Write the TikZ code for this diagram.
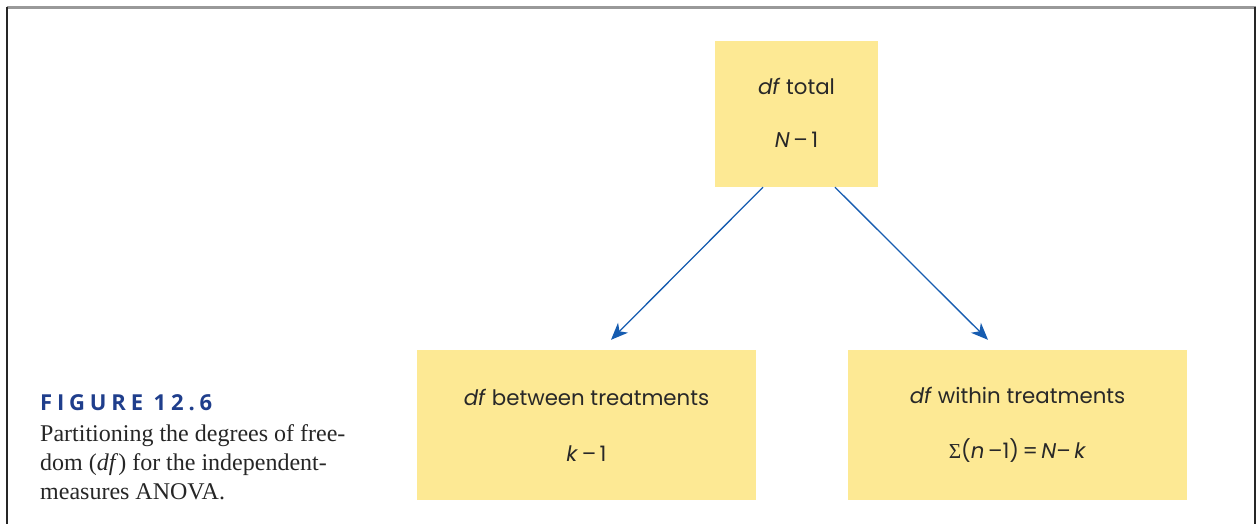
\documentclass[tikz,border=0pt]{standalone}
\usepackage{fontspec}
\setmainfont{Liberation Serif}
\newfontfamily\boxfont{Poppins}
\newfontfamily\figfont[LetterSpace=22]{Open Sans}
\usetikzlibrary{arrows.meta,calc}
\definecolor{boxyellow}{RGB}{253,233,148}
\definecolor{arrowblue}{RGB}{22,92,176}
\definecolor{figblue}{RGB}{31,62,140}
\definecolor{textgray}{RGB}{40,40,40}
\tikzset{
  dfbox/.style={fill=boxyellow, draw=none, align=center, text=textgray,
    font=\boxfont\fontsize{21.3}{55}\selectfont, inner sep=0pt},
  split/.style={draw=arrowblue, line width=1.3pt,
    -{Stealth[length=17pt,width=14pt,inset=5pt]}},
}
\newcommand{\mn}{\,–\,}
\begin{document}
\begin{tikzpicture}[x=1pt,y=-1pt]
\useasboundingbox (0,0) rectangle (1259,524);
% frame
\draw[gray!80, line width=2.2pt] (6.5,7.5) -- (1255.5,7.5);
\draw[black!85, line width=1.4pt] (7,7) -- (7,524);
\draw[black!85, line width=1.4pt] (1255,7) -- (1255,524);
% boxes
\node[dfbox, minimum width=163pt, minimum height=146pt] (top) at (796.5,114)
  {\raisebox{3pt}{\textit{df} total}\\[-2pt]\raisebox{3pt}{\textit{N}\mn 1}};
\node[dfbox, minimum width=339pt, minimum height=150pt] (bl) at (586.5,425)
  {\raisebox{1pt}{\textit{df} between treatments}\\\textit{k}\mn 1};
\node[dfbox, minimum width=339pt, minimum height=150pt] (br) at (1017.5,425)
  {\textit{df} within treatments\\{\rmfamily Σ}(\textit{n}\,–1)\,=\,\textit{N}–\,\textit{k}};
% arrows
\draw[split] ($(top.south)+(-33.5,0)$) -- ($(bl.north)+(24.5,-10)$);
\draw[split] ($(top.south)+(38.5,0)$) -- ($(br.north)+(-29.5,-10)$);
% caption
\node[anchor=base west, inner sep=0pt, font=\figfont\bfseries\fontsize{22}{22}\selectfont, text=figblue] (fig) at (40,410) {FIGURE 12.6};
\node[anchor=north west, inner sep=0pt, align=left, text=black!85,
  font=\fontsize{24}{29}\selectfont] (cap) at (40,424)
  {Partitioning the degrees of free-\\dom (\textit{df}) for the independent-\\measures ANOVA.};
\end{tikzpicture}
\end{document}
